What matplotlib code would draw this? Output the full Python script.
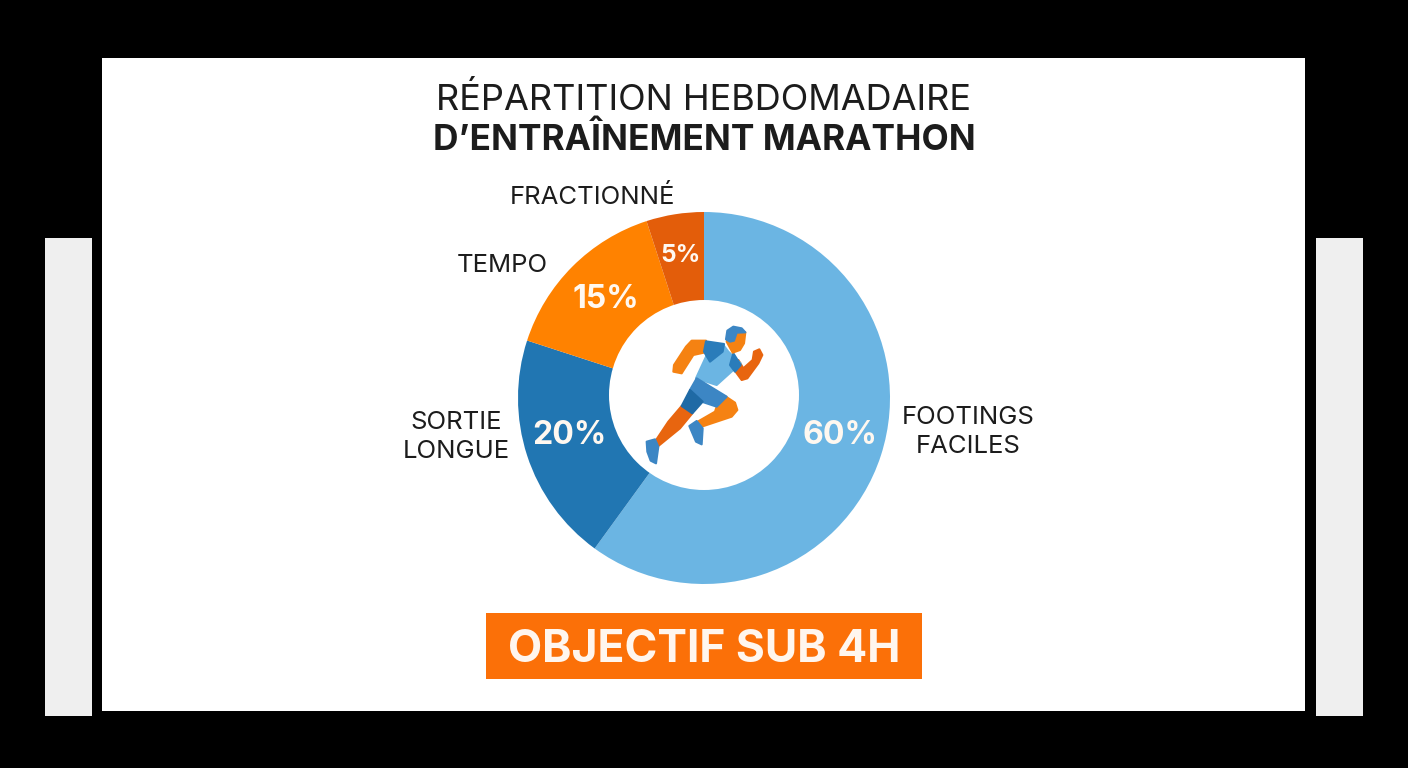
from matplotlib import pyplot as plt
from matplotlib.patches import Rectangle, Polygon, Circle

W, H = 1408, 768
FONT = ['Inter', 'DejaVu Sans']

# chart data, clockwise from the top
categories = ['FOOTINGS\nFACILES', 'SORTIE\nLONGUE', 'TEMPO', 'FRACTIONNÉ']
shares = [60, 20, 15, 5]
share_labels = ['60%', '20%', '15%', '5%']
colors = ['#6bb5e3', '#2176b2', '#ff8200', '#e35d0a']

title_light = 'RÉPARTITION HEBDOMADAIRE'
title_bold = 'D’ENTRAÎNEMENT MARATHON'
banner_text = 'OBJECTIF SUB 4H'

# pixel positions of the texts
cat_pos = [(968, 432), (456, 437), (502, 266), (592, 197)]
share_pos = [(840, 436), (569, 436), (606, 300), (681, 255)]

fig = plt.figure(figsize=(W / 100, H / 100), dpi=100, facecolor='black')

# overlay in pixel coordinates for the panel, texts and icon
bg = fig.add_axes([0, 0, 1, 1])
bg.set_xlim(0, W)
bg.set_ylim(H, 0)
bg.axis('off')
bg.add_patch(Rectangle((102, 58), 1203, 653, color='white', lw=0))
bg.add_patch(Rectangle((45, 238), 47, 478, color='#efefef', lw=0))
bg.add_patch(Rectangle((1316, 238), 47, 478, color='#efefef', lw=0))
bg.add_patch(Rectangle((486, 613), 436, 66, color='#fb7008', lw=0))

# donut
cx, cy, r = 704, 398, 186
ax = fig.add_axes([(cx - r) / W, 1 - (cy + r) / H, 2 * r / W, 2 * r / H])
ax.pie(shares, colors=colors, startangle=90, counterclock=False, radius=1,
       wedgeprops={'linewidth': 0})
ax.set_xlim(-1, 1)
ax.set_ylim(-1, 1)
ax.patch.set_alpha(0)

top = fig.add_axes([0, 0, 1, 1])
top.set_xlim(0, W)
top.set_ylim(H, 0)
top.axis('off')
top.patch.set_alpha(0)

# the hole sits a little above the centre of the ring
top.add_patch(Circle((704, 395), 95, color='white', lw=0))

top.text(704, 100, title_light, ha='center', va='center', fontsize=26,
         family=FONT, color='#1c1c1c')
top.text(704, 140, title_bold, ha='center', va='center', fontsize=25.4,
         family=FONT, weight='bold', color='#1c1c1c')
top.text(704, 650, banner_text, ha='center', va='center', fontsize=32,
         family=FONT, weight='bold', color='#fff6ee')

for name, (x, y) in zip(categories, cat_pos):
    top.text(x, y, name, ha='center', va='center', fontsize=18.5, family=FONT,
             color='#1c1c1c', linespacing=1.32)
for lab, (x, y), size in zip(share_labels, share_pos, [23, 23, 23, 17.5]):
    top.text(x, y, lab, ha='center', va='center', fontsize=size, family=FONT,
             weight='bold', color='#fff8f0')


def poly(points, color):
    pts = [(600 + x / 3, 300 + y / 3) for x, y in points]
    top.add_patch(Polygon(pts, closed=True, facecolor=color, edgecolor=color,
                          lw=1.5, joinstyle='round'))


ORANGE = '#f58212'
DARK_OR = '#e8650f'
BLUE = '#3c86c4'
DARK_BL = '#1f6aa5'
LIGHT = '#6bb5e3'

# back arm
poly([(318, 122), (275, 122), (258, 140), (222, 195), (220, 215), (245, 220),
      (250, 212), (280, 165), (325, 155)], ORANGE)
# forearm in front
poly([(392, 195), (425, 240), (442, 235), (475, 190), (487, 165), (478, 148),
      (462, 155), (458, 180), (430, 205), (415, 180)], DARK_OR)
# torso
poly([(325, 155), (370, 135), (385, 155), (422, 190), (350, 255), (288, 235)],
     LIGHT)
# sleeves
poly([(318, 124), (372, 132), (368, 155), (330, 185), (312, 155)], '#2a7cba')
poly([(400, 160), (422, 195), (405, 215), (390, 195)], '#2a7cba')
# neck and head
poly([(388, 100), (436, 97), (432, 130), (420, 150), (398, 158), (380, 125)],
     ORANGE)
poly([(378, 118), (382, 92), (400, 80), (425, 85), (436, 97), (410, 98),
      (402, 122), (390, 125)], BLUE)
# rear leg
poly([(245, 318), (277, 340), (240, 385), (175, 438), (165, 425), (205, 365)],
     DARK_OR)
# front leg
poly([(378, 290), (405, 308), (412, 330), (395, 350), (305, 380), (293, 365),
      (345, 335), (350, 320)], ORANGE)
# shorts
poly([(290, 235), (380, 290), (350, 320), (305, 305), (270, 270)], BLUE)
poly([(270, 270), (308, 305), (277, 340), (245, 318)], DARK_BL)
# shoes
poly([(140, 425), (165, 418), (175, 440), (168, 490), (152, 482), (142, 455)],
     BLUE)
poly([(268, 378), (290, 363), (308, 385), (305, 433), (288, 425)], BLUE)

fig.savefig('out.png', dpi=100, facecolor='black')
